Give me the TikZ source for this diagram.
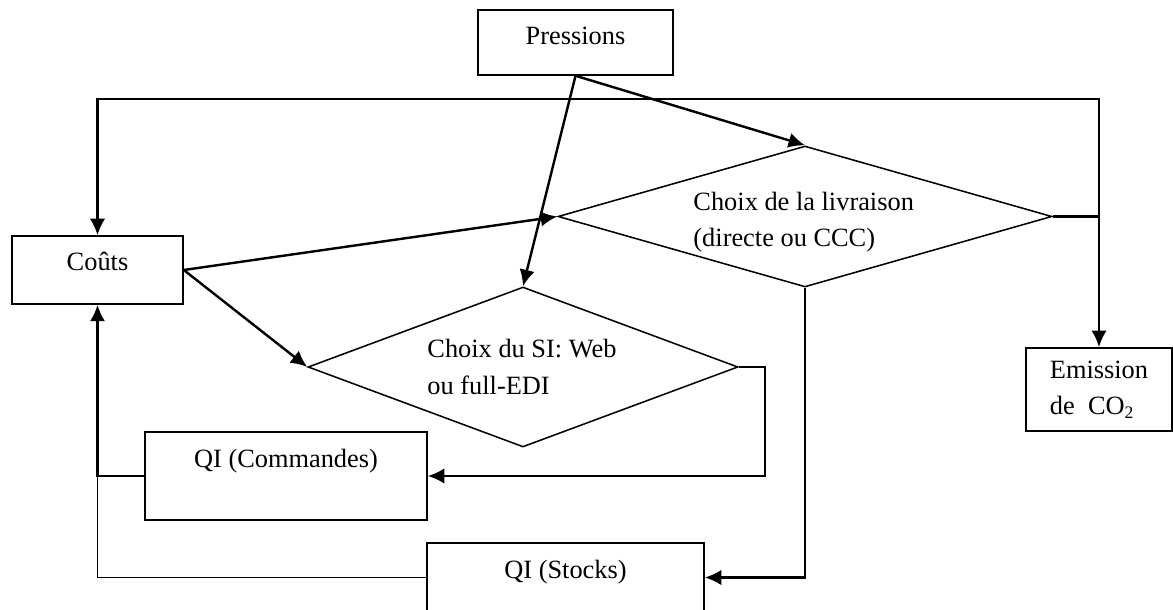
\documentclass[tikz,border=0pt]{standalone}
\usepackage{fontspec}
\setmainfont{Liberation Serif}
\usetikzlibrary{shapes.geometric,arrows.meta}

\tikzset{
  boite/.style={draw, line width=0.7pt, inner sep=0pt, font=\fontsize{12}{16.4}\selectfont},
  losange/.style={draw, shape=diamond, line width=0.7pt, inner sep=0pt},
  texte/.style={inner sep=0pt, align=left, font=\fontsize{12}{16.4}\selectfont},
  fleche/.style={line width=1.1pt, -{Latex[length=7.5pt,width=7pt]}},
  lien/.style={line width=0.7pt}
}

\begin{document}
\begin{tikzpicture}[x=0.455pt, y=-0.455pt]
\useasboundingbox (0,0) rectangle (1173,610);
% les boites
\node[boite, minimum width=195*0.455pt, text height=35*0.455pt, text depth=30*0.455pt] (pression) at (575.5,42.5) {Pressions};
\node[boite, minimum width=171*0.455pt, text height=35*0.455pt, text depth=33*0.455pt] (cout) at (97.5,270) {Coûts};
\node[boite, minimum width=282*0.455pt, text height=36*0.455pt, text depth=52*0.455pt] (cmd) at (286,476) {QI (Commandes)};
\node[boite, minimum width=277*0.455pt, text height=35*0.455pt, text depth=34*0.455pt] (stk) at (565.5,577.5) {QI (Stocks)};
\node[boite, align=left, minimum width=146*0.455pt, minimum height=83*0.455pt] (co2) at (1099,389.5) {Emission\\de\ \ CO\textsubscript{2}};
% les choix
\node[losange, minimum width=494*0.455pt, minimum height=141*0.455pt] (livraison) at (805,216.5) {};
\node[losange, minimum width=430*0.455pt, minimum height=160*0.455pt] (si) at (523,367) {};
\node[texte, anchor=west] (txtlivraison) at (693,222) {Choix de la livraison\\(directe ou CCC)};
\node[texte, anchor=west] (txtsi) at (427,367) {Choix du SI: Web\\ou full-EDI};
% points de passage
\coordinate (jonction) at (co2.north |- livraison.east);
\coordinate (haut) at (1099,99);
\coordinate (coin) at (cout.south |- cmd.west);
% les fleches
\draw[fleche] (pression.south) -- (livraison.north);
\draw[fleche] (pression.south) -- (si.north);
\draw[fleche] (cout.east) -- (livraison.west);
\draw[fleche] (cout.east) -- (si.west);
\draw[fleche, line width=1.3pt] (livraison.east) -| (co2.north);
\draw[fleche] (jonction) -- (haut) -| (cout.north);
\draw[fleche] (si.east) -- ++(26,0) |- (cmd.east);
\draw[fleche] (livraison.south) |- (stk.east);
\draw[fleche, line width=1.3pt] (cmd.west) -| (cout.south);
\draw[lien] (stk.west) -| (coin);
\end{tikzpicture}
\end{document}
